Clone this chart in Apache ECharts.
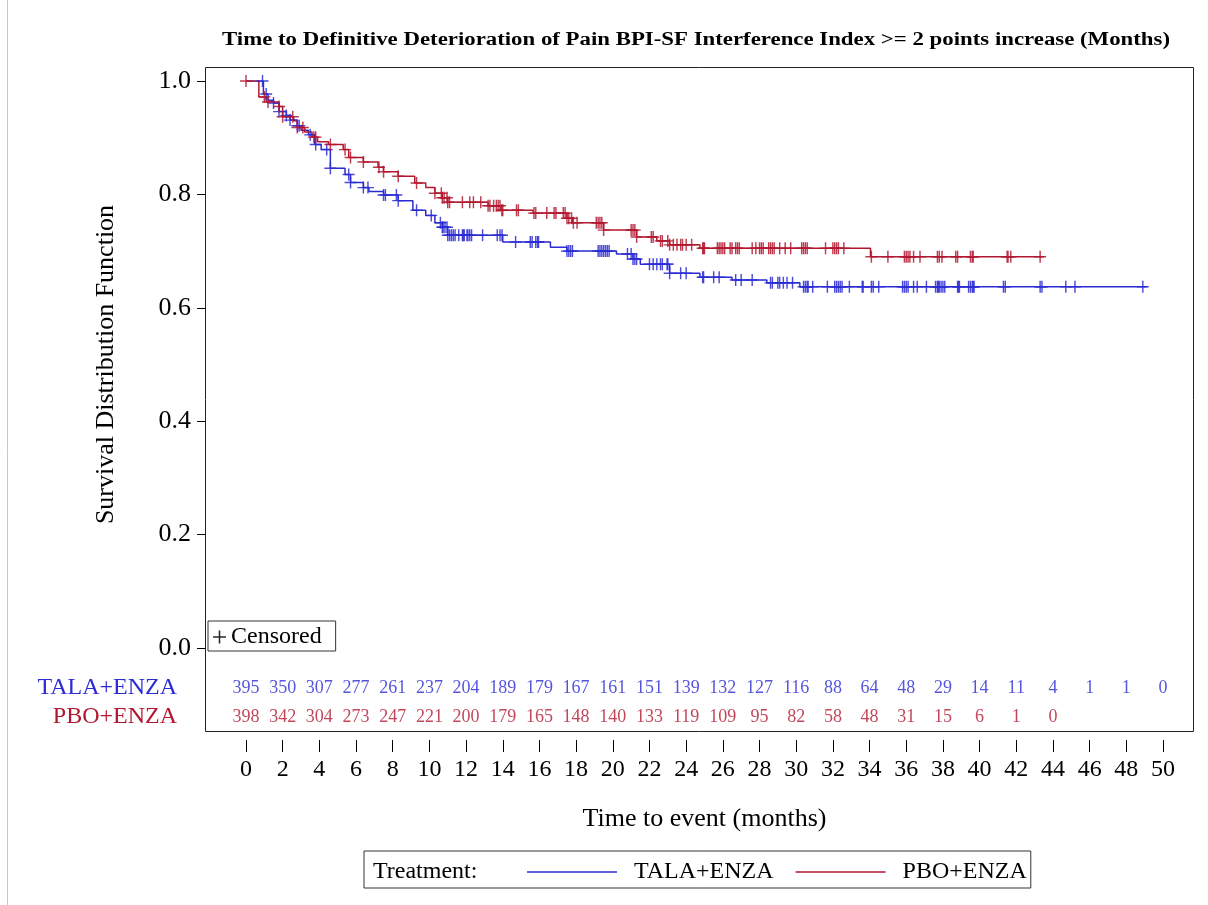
<!DOCTYPE html>
<html>
<head>
<meta charset="utf-8">
<script src="https://cdn.jsdelivr.net/npm/echarts@6/dist/echarts.min.js"></script>
<style>
  html, body { margin: 0; padding: 0; background: #fff; }
  #chart { width: 1208px; height: 905px; }
</style>
</head>
<body>
<div id="chart"></div>
<script>
// Kaplan-Meier step points: time (months) where the estimate changes, and the new value
const talaTimes = [0, 0.95, 1.2, 1.5, 1.8, 2.2, 2.4, 2.8, 3.0, 3.4, 3.75, 4.1, 4.6, 5.4, 5.7, 6.4, 6.7, 7.5, 8.3, 9.1, 9.8, 10.3, 10.7, 11.0, 14.0, 16.6, 17.5, 20.2, 21.1, 21.5, 23.1, 24.75, 26.5, 28.4, 30.2];
const talaSurv  = [1.0, 0.977, 0.966, 0.961, 0.946, 0.939, 0.931, 0.921, 0.913, 0.905, 0.888, 0.879, 0.846, 0.835, 0.821, 0.812, 0.805, 0.799, 0.789, 0.772, 0.763, 0.75, 0.742, 0.728, 0.716, 0.707, 0.70, 0.695, 0.686, 0.677, 0.661, 0.654, 0.649, 0.644, 0.637];
const talaEnd = 49.1;
const talaCensor = [0.9, 1.1, 1.5, 1.8, 2.2, 2.4, 2.8, 2.9, 3.5, 3.8, 4.4, 4.6, 5.6, 5.7, 6.4, 6.65, 7.5, 7.6, 8.2, 8.3, 9.3, 10.1,
  10.6, 10.7, 10.75, 10.85, 10.96, 11.0, 11.1, 11.2, 11.3, 11.4, 11.6, 11.8, 11.85, 11.9, 12.05, 12.1, 12.2, 12.3, 12.9, 13.7, 13.85, 13.96,
  14.7, 15.5, 15.6, 15.8, 15.9, 15.95, 17.5, 17.6, 17.7, 17.8, 19.2, 19.3, 19.4, 19.5, 19.6, 19.7, 19.8, 20.8, 21.0, 21.1, 21.2, 21.3,
  22.0, 22.2, 22.4, 22.6, 22.7, 22.96, 23.0, 23.1, 23.7, 24.0, 24.9, 24.95, 25.5,
  25.8, 26.7, 27.0, 27.6, 28.6, 28.7, 29.0, 29.1, 29.3, 29.5, 29.8, 30.4, 30.5, 30.6, 30.65, 30.9, 31.7, 32.1, 32.2, 32.3, 32.4, 32.5,
  32.9, 33.6, 33.65, 34.1, 34.2, 34.5, 35.8, 35.9, 36.0, 36.1, 36.4, 36.6, 37.1, 37.6, 37.7, 37.75, 37.8, 37.9, 38.0, 38.1, 38.8, 38.85,
  38.9, 39.4, 39.5, 39.6, 39.65, 39.7, 41.3, 41.4, 43.3, 43.4, 44.7, 45.2, 48.9];

const pboTimes = [0, 0.7, 1.1, 1.8, 2.0, 2.6, 2.8, 3.2, 3.6, 3.9, 4.5, 5.3, 5.6, 6.4, 7.2, 7.5, 8.3, 9.2, 9.8, 10.3, 10.7, 11.0, 13.2, 13.9, 15.65, 17.5, 17.8, 19.5, 21.3, 22.4, 23.1, 24.75, 34.05];
const pboSurv  = [1.0, 0.972, 0.963, 0.955, 0.937, 0.93, 0.918, 0.91, 0.901, 0.893, 0.888, 0.879, 0.865, 0.857, 0.848, 0.84, 0.832, 0.82, 0.812, 0.802, 0.794, 0.786, 0.78, 0.772, 0.767, 0.758, 0.75, 0.737, 0.725, 0.718, 0.711, 0.705, 0.69];
const pboEnd = 43.5;
const pboCensor = [0.0, 1.0, 1.2, 1.8, 2.0, 2.55, 2.8, 3.1, 3.7, 3.8, 4.6, 5.4, 5.7, 6.4, 7.25, 7.5, 8.3, 9.3, 10.3, 10.7,
  10.65, 10.8, 10.96, 11.0, 11.1, 11.8, 12.2, 12.4, 12.8, 13.2, 13.3, 13.5, 13.65, 13.75, 13.85, 13.95, 14.0, 14.75, 14.85, 15.7, 15.8,
  16.4, 16.8, 16.9, 17.3, 17.4, 17.5, 17.6, 17.75, 17.85, 18.05, 19.1, 19.2, 19.3, 19.4, 19.5, 21.0, 21.1, 21.2, 21.3, 22.1, 22.2, 22.6,
  22.7, 23.0, 23.1, 23.3, 23.5, 23.7, 23.8, 24.0,
  24.3, 24.9, 24.95, 25.0, 25.7, 25.8, 25.9, 26.0, 26.1, 26.4, 26.5, 26.7, 26.8, 26.9, 27.6, 27.8, 28.0, 28.1, 28.2, 28.5, 28.6, 28.7,
  28.8, 29.1, 29.4, 29.7, 30.3, 30.4, 30.5, 30.6, 31.6, 32.0, 32.1, 32.2, 32.3, 32.6, 34.1, 35.0, 35.9, 36.0, 36.1, 36.2, 36.4, 36.75,
  37.7, 37.8, 37.95, 38.7, 38.8, 39.5, 39.6, 39.65, 41.5, 41.55, 41.7, 43.3];

// Numbers at risk
const atRiskTimes = [0, 2, 4, 6, 8, 10, 12, 14, 16, 18, 20, 22, 24, 26, 28, 30, 32, 34, 36, 38, 40, 42, 44, 46, 48, 50];
const talaAtRisk = [395, 350, 307, 277, 261, 237, 204, 189, 179, 167, 161, 151, 139, 132, 127, 116, 88, 64, 48, 29, 14, 11, 4, 1, 1, 0];
const pboAtRisk  = [398, 342, 304, 273, 247, 221, 200, 179, 165, 148, 140, 133, 119, 109, 95, 82, 58, 48, 31, 15, 6, 1, 0];

const armNames = ['TALA+ENZA', 'PBO+ENZA'];
const titleText = 'Time to Definitive Deterioration of Pain BPI-SF Interference Index >= 2 points increase (Months)';

const BLUE = '#2b2bd3';
const RED = '#b3172f';
const FONT = '"Liberation Serif", "Times New Roman", serif';
const PLUS = 'path://M4.4,0h1.2v4.4h4.4v1.2h-4.4v4.4h-1.2v-4.4h-4.4v-1.2h4.4z';

function stepData(times, surv, end) {
  const d = times.map((t, i) => [t, surv[i]]);
  d.push([end, surv[surv.length - 1]]);
  return d;
}
function survAt(times, surv, t) {
  let s = surv[0];
  for (let i = 0; i < times.length; i++) { if (times[i] <= t) s = surv[i]; }
  return s;
}
function censorData(list, times, surv) {
  return list.map(t => [t, survAt(times, surv, t)]);
}
function riskData(counts, arm) {
  return counts.map((n, i) => [atRiskTimes[i], arm, n]);
}

// stretch the bold title to the frame's width
const measure = document.createElement('canvas').getContext('2d');
measure.font = 'bold 18px "Liberation Serif"';
const titleScale = 948 / measure.measureText(titleText).width;

const chart = echarts.init(document.getElementById('chart'), null, { renderer: 'canvas' });

const hiddenValueAxis = (gridIndex, min, max) => ({ gridIndex, type: 'value', min, max, show: false });

chart.setOption({
  backgroundColor: '#fff',
  animation: false,
  textStyle: { fontFamily: FONT },
  grid: [
    // 0: curves
    { left: 246, right: 45, top: 81, bottom: 257 },
    // 1: numbers at risk
    { left: 246, right: 45, top: 673.5, height: 58 },
    // 2: survival axis along the frame's left edge
    { left: 205, right: 15, top: 81, bottom: 257 },
    // 3: time axis below the frame
    { left: 246, right: 45, top: 700, bottom: 165 }
  ],
  xAxis: [
    hiddenValueAxis(0, 0, 50),
    hiddenValueAxis(1, 0, 50),
    hiddenValueAxis(2, 0, 1),
    {
      gridIndex: 3, type: 'value', min: 0, max: 50, interval: 2,
      axisLine: { show: false },
      axisTick: { show: true, length: 12, lineStyle: { color: '#000', width: 1 } },
      axisLabel: { fontSize: 24, color: '#000', margin: 18, fontFamily: FONT },
      splitLine: { show: false },
      name: 'Time to event (months)', nameLocation: 'middle', nameGap: 66,
      nameTextStyle: { fontSize: 26, color: '#000', fontFamily: FONT }
    }
  ],
  yAxis: [
    hiddenValueAxis(0, 0, 1),
    {
      gridIndex: 1, type: 'category', inverse: true,
      data: [
        { value: armNames[0], textStyle: { color: BLUE } },
        { value: armNames[1], textStyle: { color: RED } }
      ],
      axisLine: { show: false }, axisTick: { show: false }, splitLine: { show: false },
      axisLabel: { fontSize: 24, margin: 69, interval: 0, fontFamily: FONT }
    },
    {
      gridIndex: 2, type: 'value', min: 0, max: 1, interval: 0.2,
      axisLine: { show: false },
      axisTick: { show: true, length: 8, lineStyle: { color: '#000', width: 1 } },
      axisLabel: { fontSize: 26, color: '#000', margin: 14, fontFamily: FONT, formatter: v => v.toFixed(1) },
      splitLine: { show: false },
      name: 'Survival Distribution Function', nameLocation: 'middle', nameGap: 86, nameRotate: 90,
      nameTextStyle: { fontSize: 26, color: '#000', fontFamily: FONT }
    },
    { gridIndex: 3, type: 'value', min: 0, max: 1, show: false }
  ],
  legend: [
    {
      data: [
        { name: armNames[0], icon: 'rect' },
        { name: armNames[1], icon: 'rect' }
      ],
      left: 364, top: 851,
      padding: [9, 4, 4, 163],
      itemWidth: 90, itemHeight: 1.5, itemGap: 22,
      borderColor: '#333', borderWidth: 1,
      formatter: n => '  ' + n,
      textStyle: { fontSize: 24, color: '#000', fontFamily: FONT },
      selectedMode: false
    },
    {
      data: [{ name: 'Censored', icon: PLUS, itemStyle: { color: '#000' } }],
      left: 208, top: 621,
      padding: [4, 14, 2, 5],
      itemWidth: 13, itemHeight: 13,
      borderColor: '#333', borderWidth: 1,
      textStyle: { fontSize: 24, color: '#000', fontFamily: FONT },
      selectedMode: false
    }
  ],
  graphic: [
    { type: 'rect', shape: { x: 205.5, y: 67.5, width: 988, height: 664 },
      style: { fill: 'none', stroke: '#222', lineWidth: 1 }, z: 0, silent: true },
    { type: 'line', shape: { x1: 7.5, y1: 0, x2: 7.5, y2: 905 },
      style: { stroke: '#c8c8c8', lineWidth: 1 }, silent: true },
    { type: 'text', x: 696, y: 40, scaleX: titleScale, originX: 0, originY: 0,
      style: { text: titleText, font: 'bold 18px "Liberation Serif"', fill: '#000', align: 'center', verticalAlign: 'middle' } },
    { type: 'text', x: 373, y: 872,
      style: { text: 'Treatment:', font: '24px "Liberation Serif"', fill: '#000', align: 'left', verticalAlign: 'middle' } }
  ],
  series: [
    {
      name: armNames[0], type: 'line', step: 'end', xAxisIndex: 0, yAxisIndex: 0,
      data: stepData(talaTimes, talaSurv, talaEnd), showSymbol: false, symbol: 'none',
      lineStyle: { color: BLUE, width: 1.5 }, itemStyle: { color: BLUE }, z: 3
    },
    {
      name: armNames[1], type: 'line', step: 'end', xAxisIndex: 0, yAxisIndex: 0,
      data: stepData(pboTimes, pboSurv, pboEnd), showSymbol: false, symbol: 'none',
      lineStyle: { color: RED, width: 1.5 }, itemStyle: { color: RED }, z: 3
    },
    {
      name: 'Censored', type: 'scatter', xAxisIndex: 0, yAxisIndex: 0,
      data: censorData(talaCensor, talaTimes, talaSurv),
      symbol: PLUS, symbolSize: 12, itemStyle: { color: BLUE, opacity: 0.85 }, z: 4
    },
    {
      name: 'Censored', type: 'scatter', xAxisIndex: 0, yAxisIndex: 0,
      data: censorData(pboCensor, pboTimes, pboSurv),
      symbol: PLUS, symbolSize: 12, itemStyle: { color: RED, opacity: 0.85 }, z: 4
    },
    {
      type: 'scatter', xAxisIndex: 1, yAxisIndex: 1, silent: true,
      data: riskData(talaAtRisk, armNames[0]), symbolSize: 1,
      itemStyle: { color: 'transparent' },
      label: { show: true, position: 'inside', formatter: p => String(p.value[2]), color: BLUE, fontSize: 18, fontFamily: FONT }
    },
    {
      type: 'scatter', xAxisIndex: 1, yAxisIndex: 1, silent: true,
      data: riskData(pboAtRisk, armNames[1]), symbolSize: 1,
      itemStyle: { color: 'transparent' },
      label: { show: true, position: 'inside', formatter: p => String(p.value[2]), color: RED, fontSize: 18, fontFamily: FONT }
    }
  ]
});
</script>
</body>
</html>
